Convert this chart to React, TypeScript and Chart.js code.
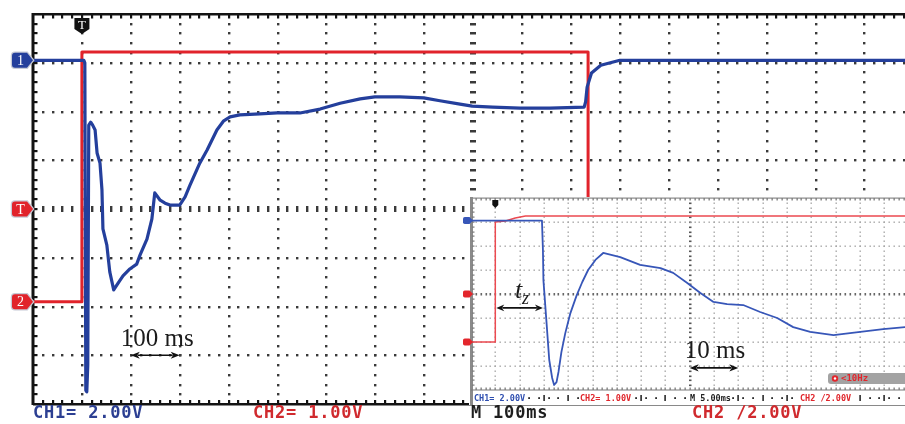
import { useEffect, useRef } from 'react';
import { Chart, registerables } from 'chart.js';

Chart.register(...registerables);

// ---------- Main screen (100 ms/div, values in screen divisions) ----------
const MAIN_X_MIN = -100;
const MAIN_X_MAX = 1683;
const MAIN_MS_PER_DIV = 100;

const MAIN_BLUE_MS = [-100, 4, 6, 8, 10, 12, 14, 18, 22, 27, 31, 37, 41, 43, 51, 57, 65, 74, 84, 98, 112, 119, 133, 143, 149, 160, 170, 180, 200, 211, 221, 241, 256, 276, 290, 303, 323, 364, 399, 446, 487, 528, 569, 599, 650, 699, 732, 773, 798, 840, 896, 957, 1027, 1030, 1033, 1042, 1061, 1100, 1683];
const MAIN_BLUE_DIV = [3.05, 3.05, 3.0, -3.72, -3.75, -3.2, 1.72, 1.78, 1.72, 1.62, 1.15, 0.94, 0.39, -0.41, -0.74, -1.29, -1.66, -1.52, -1.37, -1.23, -1.13, -0.94, -0.62, -0.21, 0.33, 0.18, 0.12, 0.08, 0.08, 0.25, 0.49, 0.94, 1.21, 1.62, 1.81, 1.89, 1.93, 1.95, 1.97, 1.97, 2.05, 2.17, 2.26, 2.30, 2.30, 2.28, 2.22, 2.15, 2.11, 2.09, 2.07, 2.07, 2.09, 2.2, 2.5, 2.79, 2.95, 3.05, 3.05];

const MAIN_RED_MS = [-100, 0, 0, 1035, 1035, 1683];
const MAIN_RED_DIV = [-1.9, -1.9, 3.22, 3.22, -1.9, -1.9];

const MAIN_MARKER_LEVELS = [3.05, 0, -1.9];
const MAIN_MARKER_TEXT = ['1', 'T', '2'];
const MAIN_LABELS = ['CH1= 2.00V', 'CH2= 1.00V', 'M 100ms', 'CH2 /2.00V'];

const MAIN_SPAN_MS = [100, 200];
const MAIN_SPAN_DIV = -3.0;
const MAIN_SPAN_TEXT = '100 ms';

// ---------- Inset screen (5 ms/div) ----------
const INSET_X_MIN = -5;
const INSET_X_MAX = 84.3;
const INSET_MS_PER_DIV = 5;

const INSET_BLUE_MS = [-5, 9.6, 9.8, 9.9, 10.5, 11.1, 11.7, 12.1, 12.6, 13.0, 13.6, 14.4, 15.4, 16.7, 17.9, 19.1, 20.6, 22.2, 25.7, 29.8, 34.0, 36.6, 39.5, 42.2, 44.9, 47.7, 51.0, 54.5, 58.0, 61.3, 64.8, 69.6, 75.1, 79.8, 84.4];
const INSET_BLUE_DIV = [3.06, 3.06, 1.83, 0.58, -1.08, -2.75, -3.5, -3.79, -3.67, -3.25, -2.42, -1.63, -0.83, -0.08, 0.5, 1.0, 1.42, 1.71, 1.54, 1.21, 1.08, 0.88, 0.46, 0.04, -0.33, -0.42, -0.46, -0.75, -1.0, -1.38, -1.58, -1.71, -1.58, -1.46, -1.38];

const INSET_RED_MS = [-5, 0, 0, 2.1, 4.1, 6.2, 84.4];
const INSET_RED_DIV = [-2.0, -2.0, 3.0, 3.04, 3.17, 3.25, 3.25];

const INSET_MARKER_LEVELS = [3.06, 0, -2.0];
const INSET_LABELS = ['CH1= 2.00V', 'CH2= 1.00V', 'M 5.00ms', 'CH2 /2.00V'];
const INSET_FILTER_TEXT = '<10Hz';

const TZ_SPAN_MS = [0, 9.8];
const TZ_SPAN_DIV = -0.58;
const INSET_SPAN_MS = [40, 50];
const INSET_SPAN_DIV = -3.08;
const INSET_SPAN_TEXT = '10 ms';

// ---------- styles / layout ----------
const BLUE = '#243f9c';
const RED = '#e1232b';
const INSET_BLUE = '#3756b8';
const INSET_RED = '#ec4a50';
const MAIN_LABEL_X = [33, 253, 471, 692];
const MAIN_LABEL_COLORS = ['#2c3f92', '#d02a2e', '#1e1e1e', '#d02a2e'];
const INSET_LABEL_X = [16, 122, 232, 342];
const INSET_LABEL_COLORS = ['#2f4fb0', '#e0262c', '#1e1e1e', '#e0262c'];

const toPts = (xs: number[], ys: number[]) => xs.map((x, i) => ({ x, y: ys[i] }));

function dblArrow(ctx: CanvasRenderingContext2D, x1: number, x2: number, y: number, hl = 9, hw = 3.6) {
  ctx.save();
  ctx.strokeStyle = '#111';
  ctx.fillStyle = '#111';
  ctx.lineWidth = 1.6;
  ctx.beginPath();
  ctx.moveTo(x1 + hl - 2, y);
  ctx.lineTo(x2 - hl + 2, y);
  ctx.stroke();
  ctx.beginPath();
  ctx.moveTo(x1, y);
  ctx.lineTo(x1 + hl, y - hw);
  ctx.lineTo(x1 + hl - 2.5, y);
  ctx.lineTo(x1 + hl, y + hw);
  ctx.closePath();
  ctx.fill();
  ctx.beginPath();
  ctx.moveTo(x2, y);
  ctx.lineTo(x2 - hl, y - hw);
  ctx.lineTo(x2 - hl + 2.5, y);
  ctx.lineTo(x2 - hl, y + hw);
  ctx.closePath();
  ctx.fill();
  ctx.restore();
}

function tagRight(ctx: CanvasRenderingContext2D, xTip: number, y: number, w: number, h: number, fill: string, text: string, font: string, outline: string | null) {
  const x0 = xTip - w;
  const pt = Math.min(6, h / 2);
  const r = Math.min(3, h / 4);
  ctx.save();
  ctx.beginPath();
  ctx.moveTo(x0 + r, y - h / 2);
  ctx.lineTo(xTip - pt, y - h / 2);
  ctx.lineTo(xTip, y);
  ctx.lineTo(xTip - pt, y + h / 2);
  ctx.lineTo(x0 + r, y + h / 2);
  ctx.quadraticCurveTo(x0, y + h / 2, x0, y + h / 2 - r);
  ctx.lineTo(x0, y - h / 2 + r);
  ctx.quadraticCurveTo(x0, y - h / 2, x0 + r, y - h / 2);
  ctx.closePath();
  if (outline) {
    ctx.strokeStyle = outline;
    ctx.lineWidth = 2.5;
    ctx.stroke();
  }
  ctx.fillStyle = fill;
  ctx.fill();
  if (text) {
    ctx.fillStyle = '#fff';
    ctx.font = font;
    ctx.textAlign = 'center';
    ctx.textBaseline = 'middle';
    ctx.fillText(text, x0 + (w - pt) / 2 + 1, y + 1);
  }
  ctx.restore();
}

function tagDown(ctx: CanvasRenderingContext2D, x: number, yTop: number, w: number, h: number, tip: number, fill: string, text: string, font: string) {
  ctx.save();
  ctx.beginPath();
  ctx.moveTo(x - w / 2, yTop);
  ctx.lineTo(x + w / 2, yTop);
  ctx.lineTo(x + w / 2, yTop + h);
  ctx.lineTo(x, yTop + h + tip);
  ctx.lineTo(x - w / 2, yTop + h);
  ctx.closePath();
  ctx.fillStyle = fill;
  ctx.fill();
  if (text) {
    ctx.fillStyle = '#fff';
    ctx.font = font;
    ctx.textAlign = 'center';
    ctx.textBaseline = 'middle';
    ctx.fillText(text, x, yTop + h / 2 + 2);
  }
  ctx.restore();
}

const mainPlugin = {
  id: 'scopeMain',
  beforeDatasetsDraw(chart: any) {
    const { ctx, chartArea: ca, scales } = chart;
    const x = scales.x, y = scales.y;
    const step = MAIN_MS_PER_DIV / 5;
    const nMinor = Math.floor((MAIN_X_MAX - MAIN_X_MIN) / step);
    ctx.save();
    ctx.fillStyle = '#3a3a3a';
    for (let k = 1; k * MAIN_MS_PER_DIV < MAIN_X_MAX - MAIN_X_MIN; k++) {
      const px = Math.round(x.getPixelForValue(MAIN_X_MIN + k * MAIN_MS_PER_DIV));
      const centre = k === 9;
      for (let j = 1; j < 40; j++) {
        const py = Math.round(y.getPixelForValue(-4 + j * 0.2));
        if (centre) ctx.fillRect(px - 3, py - 1, 6, 2.5);
        else ctx.fillRect(px - 1, py - 1, 2.4, 2.4);
      }
    }
    for (let d = -3; d <= 3; d++) {
      const py = Math.round(y.getPixelForValue(d));
      for (let i = 1; i <= nMinor; i++) {
        const px = Math.round(x.getPixelForValue(MAIN_X_MIN + i * step));
        if (d === 0) ctx.fillRect(px - 1, py - 3, 2.4, 6);
        else ctx.fillRect(px - 1, py - 1, 2.4, 2.4);
      }
    }
    ctx.fillStyle = '#141414';
    ctx.fillRect(ca.left, ca.top - 1, ca.right - ca.left, 2.5);
    ctx.fillRect(ca.left - 1.5, ca.top - 1, 3, ca.bottom - ca.top + 2);
    ctx.fillRect(ca.left, ca.bottom - 1, ca.right - ca.left, 2.5);
    for (let i = 1; i <= nMinor; i++) {
      const px = Math.round(x.getPixelForValue(MAIN_X_MIN + i * step));
      ctx.fillRect(px - 1, ca.top, 2.2, 4.5);
      ctx.fillRect(px - 1, ca.bottom - 4, 2.2, 3.5);
    }
    for (let j = 1; j < 40; j++) {
      const py = Math.round(y.getPixelForValue(-4 + j * 0.2));
      ctx.fillRect(ca.left, py - 1, 4.5, 2.2);
    }
    ctx.restore();
  },
  afterDatasetsDraw(chart: any) {
    const { ctx, scales } = chart;
    const x = scales.x, y = scales.y;
    const x1 = x.getPixelForValue(MAIN_SPAN_MS[0]);
    const x2 = x.getPixelForValue(MAIN_SPAN_MS[1]);
    const py = y.getPixelForValue(MAIN_SPAN_DIV);
    ctx.save();
    dblArrow(ctx, x1, x2, py);
    ctx.fillStyle = '#1b1b1b';
    ctx.font = '25px "Liberation Serif", "DejaVu Serif", serif';
    ctx.textAlign = 'center';
    ctx.textBaseline = 'alphabetic';
    ctx.fillText(MAIN_SPAN_TEXT, (x1 + x2) / 2 + 2, py - 9);
    ctx.restore();
  },
  afterDraw(chart: any) {
    const { ctx, chartArea: ca, scales } = chart;
    const x = scales.x, y = scales.y;
    const fills = [BLUE, RED, RED];
    MAIN_MARKER_LEVELS.forEach((lv, i) => {
      tagRight(ctx, ca.left, y.getPixelForValue(lv), 21, 15, fills[i], MAIN_MARKER_TEXT[i], '14px "Liberation Serif", serif', '#c6cad6');
    });
    tagDown(ctx, x.getPixelForValue(0), 18, 15, 11, 5, '#111', 'T', '13px "Liberation Serif", serif');
    ctx.save();
    ctx.font = 'bold 17px "DejaVu Sans Mono", monospace';
    (ctx as any).letterSpacing = '0.8px';
    ctx.textAlign = 'left';
    ctx.textBaseline = 'middle';
    MAIN_LABELS.forEach((t, i) => {
      ctx.fillStyle = MAIN_LABEL_COLORS[i];
      ctx.fillText(t, MAIN_LABEL_X[i], ca.bottom + 10);
    });
    ctx.restore();
  },
};

const insetPlugin = {
  id: 'scopeInset',
  beforeDraw(chart: any) {
    const { ctx, chartArea: ca } = chart;
    ctx.save();
    ctx.fillStyle = '#ffffff';
    ctx.fillRect(ca.left - 2, ca.top - 1, ca.right - ca.left + 2, ca.bottom - ca.top + 16);
    ctx.restore();
  },
  beforeDatasetsDraw(chart: any) {
    const { ctx, chartArea: ca, scales } = chart;
    const x = scales.x, y = scales.y;
    const step = INSET_MS_PER_DIV / 5;
    const nMinor = Math.floor((INSET_X_MAX - INSET_X_MIN) / step);
    ctx.save();
    for (let k = 1; k * INSET_MS_PER_DIV < INSET_X_MAX - INSET_X_MIN; k++) {
      const px = Math.round(x.getPixelForValue(INSET_X_MIN + k * INSET_MS_PER_DIV));
      const centre = k === 9;
      ctx.fillStyle = centre ? '#555' : '#a4a4a4';
      for (let j = 1; j < 40; j++) {
        const py = Math.round(y.getPixelForValue(-4 + j * 0.2));
        if (centre) ctx.fillRect(px - 1, py - 0.5, 2.5, 1.6);
        else ctx.fillRect(px - 0.5, py - 0.5, 1.4, 1.4);
      }
    }
    for (let d = -3; d <= 3; d++) {
      const py = Math.round(y.getPixelForValue(d));
      ctx.fillStyle = d === 0 ? '#666' : '#a4a4a4';
      for (let i = 1; i <= nMinor; i++) {
        const px = Math.round(x.getPixelForValue(INSET_X_MIN + i * step));
        if (d === 0) ctx.fillRect(px - 0.5, py - 1, 1.6, 2.5);
        else ctx.fillRect(px - 0.5, py - 0.5, 1.4, 1.4);
      }
    }
    ctx.fillStyle = '#8a8a8a';
    ctx.fillRect(ca.left, ca.top - 0.5, ca.right - ca.left, 1.2);
    ctx.fillRect(ca.left - 1, ca.top - 1, 3, ca.bottom - ca.top + 16);
    ctx.fillStyle = '#7a7a7a';
    for (let i = 1; i <= nMinor; i++) {
      const px = Math.round(x.getPixelForValue(INSET_X_MIN + i * step));
      ctx.fillRect(px - 0.5, ca.top, 1.3, 2.5);
      ctx.fillRect(px - 0.5, ca.bottom - 2.5, 1.3, 2.5);
    }
    ctx.fillRect(ca.left, ca.bottom - 0.5, ca.right - ca.left, 1);
    for (let j = 1; j < 40; j++) {
      const py = Math.round(y.getPixelForValue(-4 + j * 0.2));
      ctx.fillRect(ca.left + 1, py - 0.5, 2.5, 1.2);
    }
    const ry = ca.bottom + 8;
    ctx.fillStyle = '#2a2a2a';
    for (let i = 1; i <= nMinor * 2; i++) {
      const px = Math.round(x.getPixelForValue(INSET_X_MIN + (i * step) / 2));
      if (i % 10 === 0) ctx.fillRect(px - 0.7, ry - 3, 1.6, 6);
      else if (i % 4 === 0) ctx.fillRect(px - 0.8, ry - 0.8, 1.8, 1.8);
    }
    ctx.restore();
  },
  afterDatasetsDraw(chart: any) {
    const { ctx, scales } = chart;
    const x = scales.x, y = scales.y;
    ctx.save();
    const t1 = x.getPixelForValue(TZ_SPAN_MS[0]);
    const t2 = x.getPixelForValue(TZ_SPAN_MS[1]);
    const ty = y.getPixelForValue(TZ_SPAN_DIV);
    dblArrow(ctx, t1 + 1, t2, ty, 8, 3.4);
    ctx.fillStyle = '#1b1b1b';
    ctx.textAlign = 'left';
    ctx.textBaseline = 'alphabetic';
    ctx.font = 'italic 26px "Liberation Serif", serif';
    ctx.fillText('t', (t1 + t2) / 2 - 4, ty - 10);
    ctx.font = 'italic 18px "Liberation Serif", serif';
    ctx.fillText('z', (t1 + t2) / 2 + 3, ty - 4);
    const s1 = x.getPixelForValue(INSET_SPAN_MS[0]);
    const s2 = x.getPixelForValue(INSET_SPAN_MS[1]);
    const sy = y.getPixelForValue(INSET_SPAN_DIV);
    dblArrow(ctx, s1, s2, sy);
    ctx.font = '25px "Liberation Serif", serif';
    ctx.textAlign = 'center';
    ctx.fillText(INSET_SPAN_TEXT, (s1 + s2) / 2 + 1, sy - 10);
    ctx.restore();
  },
  afterDraw(chart: any) {
    const { ctx, chartArea: ca, scales } = chart;
    const x = scales.x, y = scales.y;
    const fills = [INSET_BLUE, '#e3262c', '#e3262c'];
    INSET_MARKER_LEVELS.forEach((lv, i) => {
      tagRight(ctx, ca.left + 2, y.getPixelForValue(lv), 10, 7, fills[i], '', '', null);
    });
    tagDown(ctx, x.getPixelForValue(0), ca.top + 2, 6, 5, 3, '#111', '', '');
    ctx.save();
    const bx = ca.right - 77, by = ca.bottom - 17;
    ctx.fillStyle = '#a3a3a3';
    ctx.beginPath();
    ctx.moveTo(bx + 3, by);
    ctx.lineTo(ca.right, by);
    ctx.lineTo(ca.right, by + 11);
    ctx.lineTo(bx + 3, by + 11);
    ctx.quadraticCurveTo(bx, by + 11, bx, by + 8);
    ctx.lineTo(bx, by + 3);
    ctx.quadraticCurveTo(bx, by, bx + 3, by);
    ctx.fill();
    ctx.fillStyle = '#e3262c';
    ctx.beginPath();
    ctx.arc(bx + 7, by + 5.5, 3.2, 0, Math.PI * 2);
    ctx.fill();
    ctx.fillStyle = '#fff';
    ctx.beginPath();
    ctx.arc(bx + 7, by + 5.5, 1.2, 0, Math.PI * 2);
    ctx.fill();
    ctx.fillStyle = '#e3262c';
    ctx.font = 'bold 9px "DejaVu Sans Mono", monospace';
    ctx.textAlign = 'left';
    ctx.textBaseline = 'middle';
    ctx.fillText(INSET_FILTER_TEXT, bx + 13, by + 6);
    const ry = ca.bottom + 8;
    ctx.font = 'bold 8.5px "DejaVu Sans Mono", monospace';
    INSET_LABELS.forEach((t, i) => {
      const w = ctx.measureText(t).width;
      ctx.fillStyle = '#fff';
      ctx.fillRect(INSET_LABEL_X[i] - 1, ry - 5, w + 2, 10);
      ctx.fillStyle = INSET_LABEL_COLORS[i];
      ctx.fillText(t, INSET_LABEL_X[i], ry + 0.5);
    });
    ctx.restore();
  },
};

export default function App() {
  const mainRef = useRef<HTMLCanvasElement>(null);
  const insetRef = useRef<HTMLCanvasElement>(null);

  useEffect(() => {
    document.body.style.margin = '0';
    const common = {
      animation: false,
      responsive: false,
      events: [],
      plugins: { legend: { display: false }, tooltip: { enabled: false }, title: { display: false } },
      elements: { point: { radius: 0 }, line: { tension: 0, borderJoinStyle: 'round', borderCapStyle: 'round' } },
    };
    const main = new Chart(mainRef.current as HTMLCanvasElement, {
      type: 'line',
      data: {
        datasets: [
          { data: toPts(MAIN_BLUE_MS, MAIN_BLUE_DIV), borderColor: BLUE, borderWidth: 3.2, pointRadius: 0, fill: false },
          { data: toPts(MAIN_RED_MS, MAIN_RED_DIV), borderColor: RED, borderWidth: 3, pointRadius: 0, fill: false },
        ],
      },
      options: {
        ...common,
        layout: { padding: { left: 33, top: 14, right: 0, bottom: 20 } },
        scales: {
          x: { type: 'linear', min: MAIN_X_MIN, max: MAIN_X_MAX, display: false },
          y: { type: 'linear', min: -4, max: 4, display: false },
        },
      } as any,
      plugins: [mainPlugin],
    } as any);
    const inset = new Chart(insetRef.current as HTMLCanvasElement, {
      type: 'line',
      data: {
        datasets: [
          { data: toPts(INSET_BLUE_MS, INSET_BLUE_DIV), borderColor: INSET_BLUE, borderWidth: 1.8, pointRadius: 0, fill: false },
          { data: toPts(INSET_RED_MS, INSET_RED_DIV), borderColor: INSET_RED, borderWidth: 1.5, pointRadius: 0, fill: false },
        ],
      },
      options: {
        ...common,
        layout: { padding: { left: 13, top: 8, right: 0, bottom: 16 } },
        scales: {
          x: { type: 'linear', min: INSET_X_MIN, max: INSET_X_MAX, display: false },
          y: { type: 'linear', min: -4, max: 4, display: false },
        },
      } as any,
      plugins: [insetPlugin],
    } as any);
    return () => {
      main.destroy();
      inset.destroy();
    };
  }, []);

  return (
    <div style={{ position: 'fixed', left: 0, top: 0, width: 905, height: 424, background: '#fff', overflow: 'hidden' }}>
      <canvas ref={mainRef} width={905} height={424} style={{ position: 'absolute', left: 0, top: 0, width: 905, height: 424 }} />
      <canvas ref={insetRef} width={447} height={216} style={{ position: 'absolute', left: 458, top: 190, width: 447, height: 216 }} />
    </div>
  );
}
